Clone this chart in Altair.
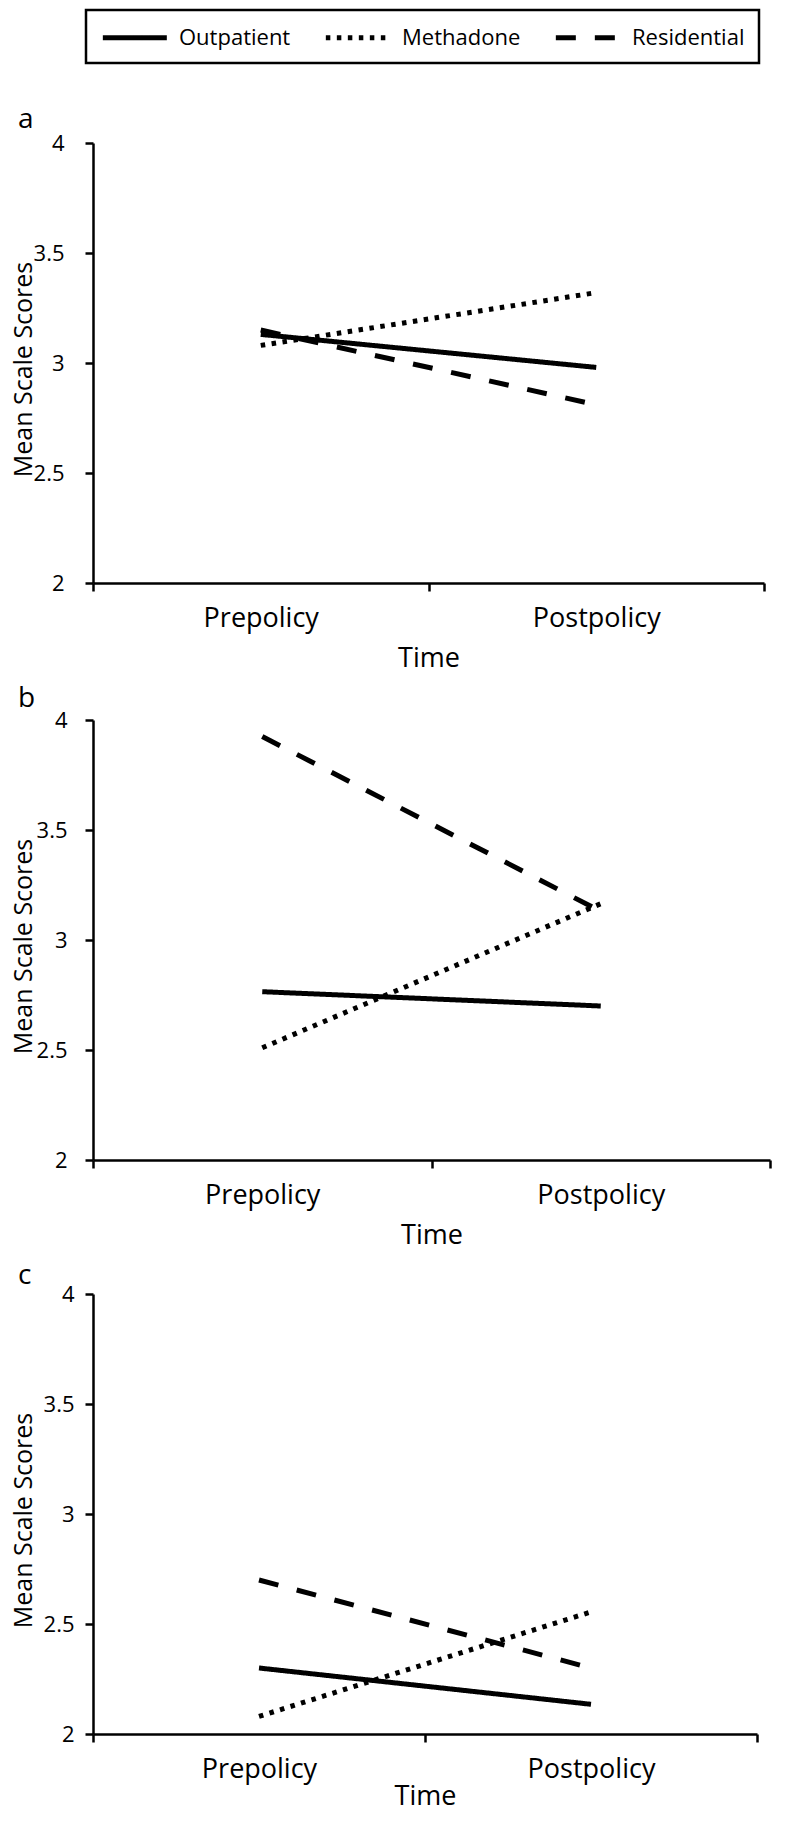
import altair as alt
import pandas as pd

FONT = "Open Sans"

times = ["Prepolicy", "Postpolicy"]
groups = ["Outpatient", "Methadone", "Residential"]

# Panel a
a_outpatient = [3.13, 2.98]
a_methadone = [3.08, 3.32]
a_residential = [3.15, 2.81]
# Panel b
b_outpatient = [2.765, 2.70]
b_methadone = [2.51, 3.165]
b_residential = [3.925, 3.13]
# Panel c
c_outpatient = [2.30, 2.135]
c_methadone = [2.08, 2.555]
c_residential = [2.70, 2.30]

y_ticks = [2, 2.5, 3, 3.5, 4]
dash_range = [[1, 0], [4.5, 6.5], [20, 19]]


def make_df(out, met, res):
    rows = []
    for g, vals in zip(groups, [out, met, res]):
        for t, v in zip(times, vals):
            rows.append({"Time": t, "Group": g, "Score": v})
    return pd.DataFrame(rows)


# a long horizontal stroke symbol whose layout box stays as short as the labels
legend = alt.Legend(
    title=None, orient="none", legendX=-7, legendY=0, direction="horizontal",
    fillColor="white", strokeColor="black", padding=14,
    symbolType="M-1,0H5", symbolSize=455, symbolStrokeWidth=5,
    symbolStrokeColor="black", labelFont=FONT, labelFontSize=22,
    labelColor="black", labelOffset=52, columnPadding=24,
)

dash_scale = alt.Scale(domain=groups, range=dash_range)

# header cell that carries only the legend
header = alt.Chart(make_df(a_outpatient, a_methadone, a_residential)).mark_line(
    opacity=0
).encode(
    x=alt.X("Time:N", sort=times, axis=None),
    y=alt.Y("Score:Q", axis=None),
    strokeDash=alt.StrokeDash("Group:N", sort=groups, scale=dash_scale, legend=legend),
).properties(width=600, height=82)

AXIS_X = 82


def panel(letter, df, width, label_pad, title_offset, time_pad):
    return alt.Chart(df).mark_line(strokeWidth=5, strokeCap="butt", color="black").encode(
        x=alt.X("Time:N", sort=times, bandPosition=0.5,
                scale=alt.Scale(type="band", domain=times, paddingInner=0, paddingOuter=0),
                axis=alt.Axis(title="Time", labelAngle=0, tickBand="extent", tickSize=8,
                              labelPadding=14, titlePadding=time_pad, labelFontSize=27,
                              titleFontSize=27)),
        y=alt.Y("Score:Q", scale=alt.Scale(domain=[2, 4], nice=False, zero=False),
                axis=alt.Axis(title="Mean Scale Scores", values=y_ticks, format="~g",
                              tickSize=8, labelPadding=label_pad, labelFontSize=22,
                              titleFontSize=25, titleX=-AXIS_X, titleY=226,
                              titleBaseline="top", titleAngle=270)),
        strokeDash=alt.StrokeDash("Group:N", sort=groups, scale=dash_scale, legend=None),
    ).properties(
        width=width, height=440,
        title=alt.Title(letter, anchor="start", frame="bounds", fontSize=28,
                        fontWeight="normal", dx=7, offset=title_offset, font=FONT,
                        color="black"),
    )


pa = panel("a", make_df(a_outpatient, a_methadone, a_residential), 671, 21, -2, 14)
pb = panel("b", make_df(b_outpatient, b_methadone, b_residential), 677, 18, -4, 14)
pc = panel("c", make_df(c_outpatient, c_methadone, c_residential), 664, 11, -7, 1)

chart = alt.concat(header, pa, pb, pc, columns=1, spacing=14).properties(
    padding={"left": 3, "top": 0, "right": 0, "bottom": 3}
).resolve_legend(strokeDash="independent").configure_view(stroke=None).configure_axis(
    domainColor="black", domainWidth=2.5, tickColor="black", tickWidth=2.5,
    labelColor="black", titleColor="black", labelFont=FONT, titleFont=FONT,
    grid=False, titleFontWeight="normal",
).configure_legend(strokeWidth=2.5)

chart.save("out.html", embed_options={"renderer": "svg", "actions": False})
